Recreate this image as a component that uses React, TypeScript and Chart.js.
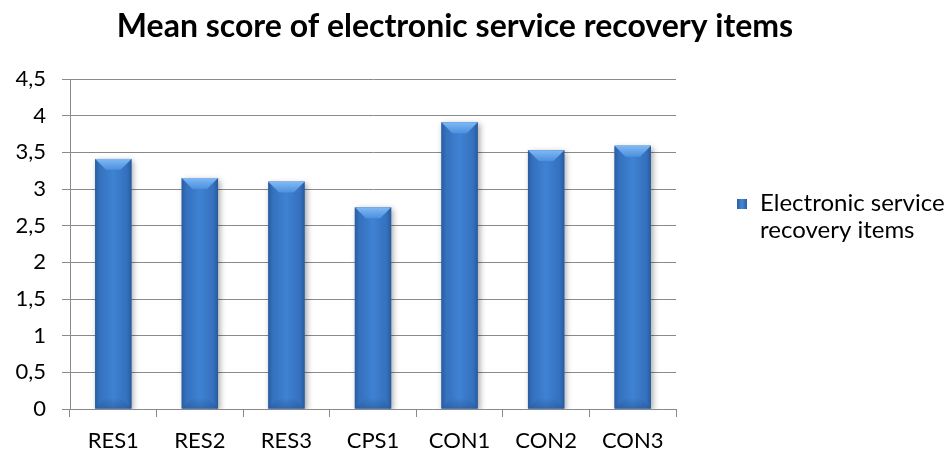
import { useEffect, useRef } from "react";
import { Chart, registerables } from "chart.js";

Chart.register(...registerables);

const CHART_TITLE = "Mean score of electronic service recovery items";
const SERIES_NAME = "Electronic service recovery items";
const CATEGORIES = ["RES1", "RES2", "RES3", "CPS1", "CON1", "CON2", "CON3"];
const MEAN_SCORES = [3.41, 3.15, 3.1, 2.75, 3.91, 3.53, 3.59];
const Y_MIN = 0;
const Y_MAX = 4.5;
const Y_STEP = 0.5;

const FONT = "Lato, 'Open Sans', sans-serif";
const GRID = "#8a8a8a";

// Centered heading across the whole canvas.
const heading = {
  id: "heading",
  afterDraw(chart: any) {
    const ctx = chart.ctx;
    ctx.save();
    ctx.font = `bold 32px ${FONT}`;
    ctx.fillStyle = "#000";
    ctx.textAlign = "center";
    ctx.textBaseline = "alphabetic";
    ctx.fillText(CHART_TITLE, 455, 37);
    ctx.restore();
  },
};

// Bevelled, shaded look for each bar, drawn over the library's bar rectangles.
const barShading = {
  id: "barShading",
  beforeDatasetDraw(chart: any) {
    const ctx = chart.ctx;
    ctx.save();
    ctx.shadowColor = "rgba(0,0,0,0.35)";
    ctx.shadowBlur = 6;
    ctx.shadowOffsetX = 2;
    ctx.shadowOffsetY = 2;
  },
  afterDatasetDraw(chart: any, args: any) {
    const ctx = chart.ctx;
    ctx.restore();
    args.meta.data.forEach((bar: any) => {
      const { x, y, base, width } = bar.getProps(["x", "y", "base", "width"], true);
      const l = x - width / 2;
      const r = x + width / 2;
      const h = base - y;

      const body = ctx.createLinearGradient(l, 0, r, 0);
      body.addColorStop(0, "#2a5d9f");
      body.addColorStop(0.12, "#3470bd");
      body.addColorStop(0.5, "#3f82d3");
      body.addColorStop(0.88, "#3470bd");
      body.addColorStop(1, "#285a9a");
      ctx.fillStyle = body;
      ctx.fillRect(l, y, width, h);

      const b = Math.min(11, width * 0.3, h / 2);

      // top bevel
      const top = ctx.createLinearGradient(0, y, 0, y + b);
      top.addColorStop(0, "#80b9f4");
      top.addColorStop(1, "#4d90de");
      ctx.beginPath();
      ctx.moveTo(l, y);
      ctx.lineTo(r, y);
      ctx.lineTo(r - b, y + b);
      ctx.lineTo(l + b, y + b);
      ctx.closePath();
      ctx.fillStyle = top;
      ctx.fill();

      // bottom bevel
      const bot = ctx.createLinearGradient(0, base - b, 0, base);
      bot.addColorStop(0, "rgba(40,90,155,0)");
      bot.addColorStop(1, "rgba(40,90,155,0.6)");
      ctx.beginPath();
      ctx.moveTo(l, base);
      ctx.lineTo(r, base);
      ctx.lineTo(r - b, base - b);
      ctx.lineTo(l + b, base - b);
      ctx.closePath();
      ctx.fillStyle = bot;
      ctx.fill();
    });
  },
};

// Legend on the right, with the series name wrapped over two lines.
const sideLegend = {
  id: "sideLegend",
  afterDraw(chart: any) {
    const ctx = chart.ctx;
    const name: string = chart.data.datasets[0].label;
    const fontSize = 24;
    ctx.save();
    ctx.font = `${fontSize}px ${FONT}`;
    const maxWidth = 200;
    const lines: string[] = [];
    let cur = "";
    name.split(" ").forEach((w) => {
      const test = cur ? cur + " " + w : w;
      if (ctx.measureText(test).width > maxWidth && cur) {
        lines.push(cur);
        cur = w;
      } else cur = test;
    });
    if (cur) lines.push(cur);

    const boxX = chart.chartArea.right + 61;
    const textX = boxX + 23;
    const lineH = 27;
    const firstY = 203;

    const sq = ctx.createLinearGradient(boxX, 0, boxX + 10, 0);
    sq.addColorStop(0, "#2a5d9f");
    sq.addColorStop(0.5, "#4588d8");
    sq.addColorStop(1, "#2a5d9f");
    ctx.fillStyle = sq;
    ctx.fillRect(boxX, firstY - 4, 10, 10);

    ctx.fillStyle = "#000";
    ctx.textAlign = "left";
    ctx.textBaseline = "middle";
    lines.forEach((ln, i) => ctx.fillText(ln, textX, firstY + i * lineH));
    ctx.restore();
  },
};

export default function App() {
  const canvasRef = useRef<HTMLCanvasElement | null>(null);

  useEffect(() => {
    document.body.style.margin = "0";
    const canvas = canvasRef.current;
    if (!canvas) return;

    const chart = new Chart(canvas, {
      type: "bar",
      data: {
        labels: CATEGORIES,
        datasets: [
          {
            label: SERIES_NAME,
            data: MEAN_SCORES,
            backgroundColor: "#3a78c7",
            borderWidth: 0,
            categoryPercentage: 1,
            barPercentage: 0.42,
          },
        ],
      },
      options: {
        responsive: false,
        animation: false,
        devicePixelRatio: 1,
        layout: { padding: { left: 0, right: 273, top: 79, bottom: 0 } },
        plugins: {
          legend: { display: false },
          tooltip: { enabled: false },
          title: { display: false },
        },
        scales: {
          x: {
            grid: {
              display: true,
              offset: true,
              drawOnChartArea: false,
              drawTicks: true,
              tickLength: 8,
              color: GRID,
              lineWidth: 1,
            },
            border: { display: true, color: GRID, width: 1 },
            ticks: {
              color: "#000",
              font: { family: FONT, size: 22 },
              padding: 11,
              maxRotation: 0,
            },
            afterFit(scale: any) {
              scale.height = 45;
            },
          },
          y: {
            min: Y_MIN,
            max: Y_MAX,
            grid: {
              color: GRID,
              lineWidth: 1,
              drawTicks: true,
              tickLength: 8,
            },
            border: { display: true, color: GRID, width: 1 },
            ticks: {
              stepSize: Y_STEP,
              color: "#000",
              font: { family: FONT, size: 22 },
              padding: 16,
              callback: (v: any) => String(Number(v)).replace(".", ","),
            },
            afterFit(scale: any) {
              scale.width = 70;
            },
          },
        },
      },
      plugins: [barShading, sideLegend, heading],
    });

    return () => chart.destroy();
  }, []);

  return (
    <div style={{ width: 949, height: 454, background: "#fff" }}>
      <canvas ref={canvasRef} width={949} height={454} />
    </div>
  );
}
